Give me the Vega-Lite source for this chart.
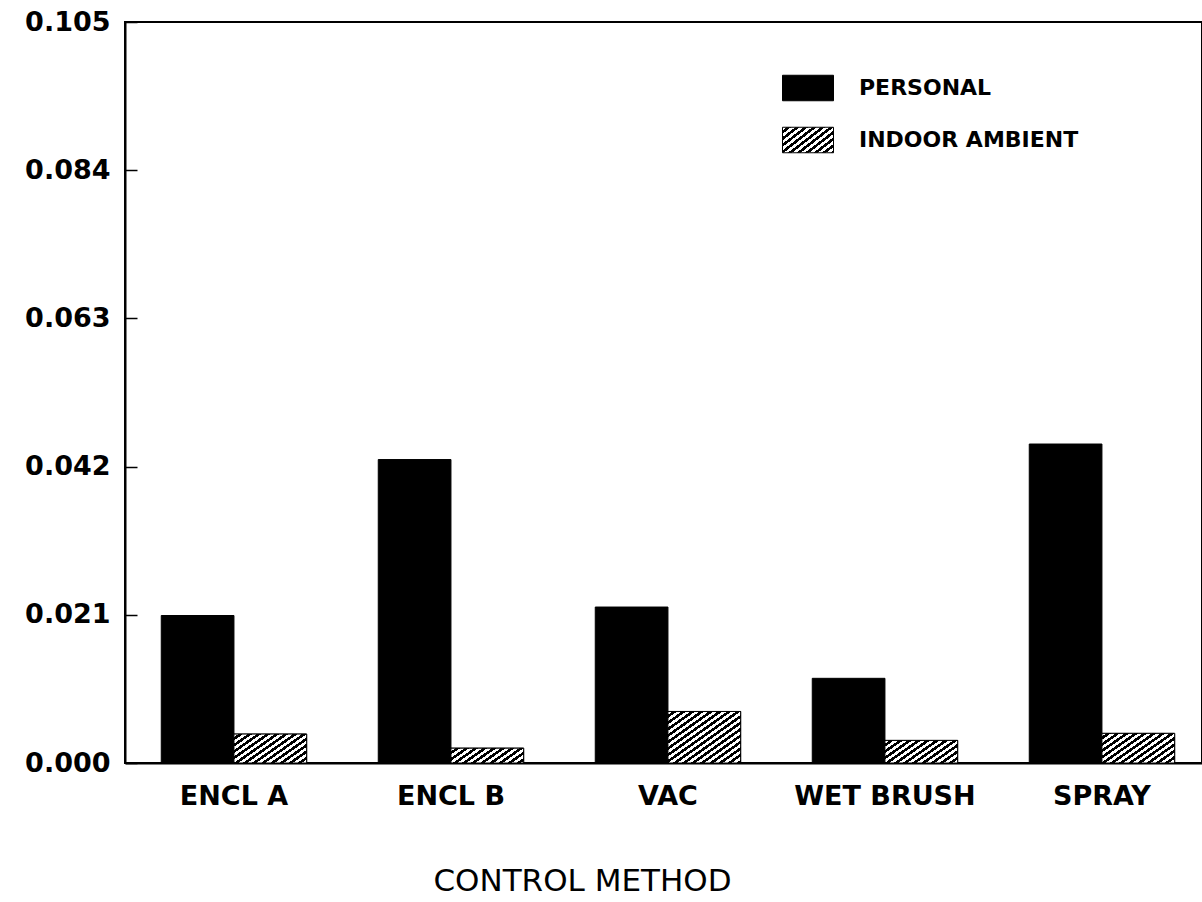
{
  "$schema": "https://vega.github.io/schema/vega-lite/v6.json",
  "autosize": {"type": "none"},
  "padding": {"left": 125, "top": 22, "right": 0, "bottom": 139},
  "width": 1077,
  "height": 741,
  "background": "white",
  "config": {
    "view": {"stroke": "black", "strokeWidth": 2},
    "font": "DejaVu Sans"
  },
  "data": {
    "values": [
      {"method": "ENCL A", "series": "PERSONAL", "value": 0.0209},
      {"method": "ENCL A", "series": "INDOOR AMBIENT", "value": 0.0041},
      {"method": "ENCL B", "series": "PERSONAL", "value": 0.0430},
      {"method": "ENCL B", "series": "INDOOR AMBIENT", "value": 0.0021},
      {"method": "VAC", "series": "PERSONAL", "value": 0.0221},
      {"method": "VAC", "series": "INDOOR AMBIENT", "value": 0.0073},
      {"method": "WET BRUSH", "series": "PERSONAL", "value": 0.0120},
      {"method": "WET BRUSH", "series": "INDOOR AMBIENT", "value": 0.0032},
      {"method": "SPRAY", "series": "PERSONAL", "value": 0.0452},
      {"method": "SPRAY", "series": "INDOOR AMBIENT", "value": 0.0042}
    ]
  },
  "encoding": {
    "x": {
      "field": "method",
      "type": "nominal",
      "sort": ["ENCL A", "ENCL B", "VAC", "WET BRUSH", "SPRAY"],
      "scale": {"paddingInner": 0.33, "paddingOuter": 0.1466, "align": 0.57},
      "axis": {
        "title": "CONTROL METHOD",
        "titleFont": "DejaVu Sans",
        "titleFontSize": 31,
        "titleFontWeight": "normal",
        "titleColor": "black",
        "titleX": 457,
        "titlePadding": 57,
        "labelAngle": 0,
        "labelFont": "DejaVu Sans",
        "labelFontSize": 27,
        "labelFontWeight": "bold",
        "labelColor": "black",
        "labelPadding": 20,
        "labelLimit": 400,
        "labelOverlap": false,
        "ticks": false,
        "domainColor": "black",
        "domainWidth": 2
      }
    },
    "xOffset": {
      "field": "series",
      "type": "nominal",
      "sort": ["PERSONAL", "INDOOR AMBIENT"],
      "scale": {"paddingInner": 0, "paddingOuter": 0}
    },
    "y": {
      "field": "value",
      "type": "quantitative",
      "scale": {"domain": [0, 0.105], "nice": false},
      "axis": {
        "title": null,
        "values": [0, 0.021, 0.042, 0.063, 0.084, 0.105],
        "format": ".3f",
        "grid": false,
        "labelFont": "DejaVu Sans",
        "labelFontSize": 27,
        "labelFontWeight": "bold",
        "labelColor": "black",
        "tickColor": "black",
        "tickWidth": 1.5,
        "tickSize": -12,
        "labelPadding": 27,
        "domainColor": "black",
        "domainWidth": 2
      }
    }
  },
  "layer": [
    {
      "mark": {"type": "bar", "stroke": "black", "strokeWidth": 1},
      "encoding": {
        "color": {
          "field": "series",
          "type": "nominal",
          "sort": ["PERSONAL", "INDOOR AMBIENT"],
          "scale": {
            "domain": ["PERSONAL", "INDOOR AMBIENT"],
            "range": [
              "black",
              {"expr": "{gradient: 'linear', x1: 0, y1: 0, x2: 1.884, y2: 1.215, stops: [{offset: 0, color: 'white'}, {offset: 0.03125, color: 'white'}, {offset: 0.03125, color: 'black'}, {offset: 0.0625, color: 'black'}, {offset: 0.0625, color: 'white'}, {offset: 0.09375, color: 'white'}, {offset: 0.09375, color: 'black'}, {offset: 0.125, color: 'black'}, {offset: 0.125, color: 'white'}, {offset: 0.15625, color: 'white'}, {offset: 0.15625, color: 'black'}, {offset: 0.1875, color: 'black'}, {offset: 0.1875, color: 'white'}, {offset: 0.21875, color: 'white'}, {offset: 0.21875, color: 'black'}, {offset: 0.25, color: 'black'}, {offset: 0.25, color: 'white'}, {offset: 0.28125, color: 'white'}, {offset: 0.28125, color: 'black'}, {offset: 0.3125, color: 'black'}, {offset: 0.3125, color: 'white'}, {offset: 0.34375, color: 'white'}, {offset: 0.34375, color: 'black'}, {offset: 0.375, color: 'black'}, {offset: 0.375, color: 'white'}, {offset: 0.40625, color: 'white'}, {offset: 0.40625, color: 'black'}, {offset: 0.4375, color: 'black'}, {offset: 0.4375, color: 'white'}, {offset: 0.46875, color: 'white'}, {offset: 0.46875, color: 'black'}, {offset: 0.5, color: 'black'}, {offset: 0.5, color: 'white'}, {offset: 0.53125, color: 'white'}, {offset: 0.53125, color: 'black'}, {offset: 0.5625, color: 'black'}, {offset: 0.5625, color: 'white'}, {offset: 0.59375, color: 'white'}, {offset: 0.59375, color: 'black'}, {offset: 0.625, color: 'black'}, {offset: 0.625, color: 'white'}, {offset: 0.65625, color: 'white'}, {offset: 0.65625, color: 'black'}, {offset: 0.6875, color: 'black'}, {offset: 0.6875, color: 'white'}, {offset: 0.71875, color: 'white'}, {offset: 0.71875, color: 'black'}, {offset: 0.75, color: 'black'}, {offset: 0.75, color: 'white'}, {offset: 0.78125, color: 'white'}, {offset: 0.78125, color: 'black'}, {offset: 0.8125, color: 'black'}, {offset: 0.8125, color: 'white'}, {offset: 0.84375, color: 'white'}, {offset: 0.84375, color: 'black'}, {offset: 0.875, color: 'black'}, {offset: 0.875, color: 'white'}, {offset: 0.90625, color: 'white'}, {offset: 0.90625, color: 'black'}, {offset: 0.9375, color: 'black'}, {offset: 0.9375, color: 'white'}, {offset: 0.96875, color: 'white'}, {offset: 0.96875, color: 'black'}, {offset: 1, color: 'black'}]}"}
            ]
          },
          "legend": {
            "title": null,
            "orient": "none",
            "legendX": 657,
            "legendY": 40,
            "padding": 0,
            "symbolType": "M-1,-0.5H1V0.5H-1Z",
            "symbolSize": 2601,
            "symbolStrokeColor": "black",
            "symbolStrokeWidth": 1,
            "labelFont": "DejaVu Sans",
            "labelFontSize": 22,
            "labelFontWeight": "bold",
            "labelColor": "black",
            "labelOffset": 25,
            "rowPadding": 11,
            "labelLimit": 400,
            "encode": {
              "symbols": {
                "update": {
                  "stroke": {"value": "black"},
                  "strokeWidth": {"value": 1}
                }
              }
            }
          }
        }
      }
    },
    {
      "transform": [{"filter": "datum.series === 'INDOOR AMBIENT' && datum.method === 'ENCL A'"}],
      "mark": {
        "type": "bar", "stroke": "black", "strokeWidth": 1,
        "fill": {
          "gradient": "linear", "x1": 0, "y1": 0, "x2": 1.512, "y2": 0.859,
          "stops": [
            {"offset": 0, "color": "white"},
            {"offset": 0.03125, "color": "white"}, {"offset": 0.03125, "color": "black"}, {"offset": 0.0625, "color": "black"}, {"offset": 0.0625, "color": "white"},
            {"offset": 0.09375, "color": "white"}, {"offset": 0.09375, "color": "black"}, {"offset": 0.125, "color": "black"}, {"offset": 0.125, "color": "white"},
            {"offset": 0.15625, "color": "white"}, {"offset": 0.15625, "color": "black"}, {"offset": 0.1875, "color": "black"}, {"offset": 0.1875, "color": "white"},
            {"offset": 0.21875, "color": "white"}, {"offset": 0.21875, "color": "black"}, {"offset": 0.25, "color": "black"}, {"offset": 0.25, "color": "white"},
            {"offset": 0.28125, "color": "white"}, {"offset": 0.28125, "color": "black"}, {"offset": 0.3125, "color": "black"}, {"offset": 0.3125, "color": "white"},
            {"offset": 0.34375, "color": "white"}, {"offset": 0.34375, "color": "black"}, {"offset": 0.375, "color": "black"}, {"offset": 0.375, "color": "white"},
            {"offset": 0.40625, "color": "white"}, {"offset": 0.40625, "color": "black"}, {"offset": 0.4375, "color": "black"}, {"offset": 0.4375, "color": "white"},
            {"offset": 0.46875, "color": "white"}, {"offset": 0.46875, "color": "black"}, {"offset": 0.5, "color": "black"}, {"offset": 0.5, "color": "white"},
            {"offset": 0.53125, "color": "white"}, {"offset": 0.53125, "color": "black"}, {"offset": 0.5625, "color": "black"}, {"offset": 0.5625, "color": "white"},
            {"offset": 0.59375, "color": "white"}, {"offset": 0.59375, "color": "black"}, {"offset": 0.625, "color": "black"}, {"offset": 0.625, "color": "white"},
            {"offset": 0.65625, "color": "white"}, {"offset": 0.65625, "color": "black"}, {"offset": 0.6875, "color": "black"}, {"offset": 0.6875, "color": "white"},
            {"offset": 0.71875, "color": "white"}, {"offset": 0.71875, "color": "black"}, {"offset": 0.75, "color": "black"}, {"offset": 0.75, "color": "white"},
            {"offset": 0.78125, "color": "white"}, {"offset": 0.78125, "color": "black"}, {"offset": 0.8125, "color": "black"}, {"offset": 0.8125, "color": "white"},
            {"offset": 0.84375, "color": "white"}, {"offset": 0.84375, "color": "black"}, {"offset": 0.875, "color": "black"}, {"offset": 0.875, "color": "white"},
            {"offset": 0.90625, "color": "white"}, {"offset": 0.90625, "color": "black"}, {"offset": 0.9375, "color": "black"}, {"offset": 0.9375, "color": "white"},
            {"offset": 0.96875, "color": "white"}, {"offset": 0.96875, "color": "black"}, {"offset": 1, "color": "black"}
          ]
        }
      }
    },
    {
      "transform": [{"filter": "datum.series === 'INDOOR AMBIENT' && datum.method === 'ENCL B'"}],
      "mark": {
        "type": "bar", "stroke": "black", "strokeWidth": 1,
        "fill": {
          "gradient": "linear", "x1": 0, "y1": 0, "x2": 1.844, "y2": 0.536,
          "stops": [
            {"offset": 0, "color": "white"},
            {"offset": 0.03125, "color": "white"}, {"offset": 0.03125, "color": "black"}, {"offset": 0.0625, "color": "black"}, {"offset": 0.0625, "color": "white"},
            {"offset": 0.09375, "color": "white"}, {"offset": 0.09375, "color": "black"}, {"offset": 0.125, "color": "black"}, {"offset": 0.125, "color": "white"},
            {"offset": 0.15625, "color": "white"}, {"offset": 0.15625, "color": "black"}, {"offset": 0.1875, "color": "black"}, {"offset": 0.1875, "color": "white"},
            {"offset": 0.21875, "color": "white"}, {"offset": 0.21875, "color": "black"}, {"offset": 0.25, "color": "black"}, {"offset": 0.25, "color": "white"},
            {"offset": 0.28125, "color": "white"}, {"offset": 0.28125, "color": "black"}, {"offset": 0.3125, "color": "black"}, {"offset": 0.3125, "color": "white"},
            {"offset": 0.34375, "color": "white"}, {"offset": 0.34375, "color": "black"}, {"offset": 0.375, "color": "black"}, {"offset": 0.375, "color": "white"},
            {"offset": 0.40625, "color": "white"}, {"offset": 0.40625, "color": "black"}, {"offset": 0.4375, "color": "black"}, {"offset": 0.4375, "color": "white"},
            {"offset": 0.46875, "color": "white"}, {"offset": 0.46875, "color": "black"}, {"offset": 0.5, "color": "black"}, {"offset": 0.5, "color": "white"},
            {"offset": 0.53125, "color": "white"}, {"offset": 0.53125, "color": "black"}, {"offset": 0.5625, "color": "black"}, {"offset": 0.5625, "color": "white"},
            {"offset": 0.59375, "color": "white"}, {"offset": 0.59375, "color": "black"}, {"offset": 0.625, "color": "black"}, {"offset": 0.625, "color": "white"},
            {"offset": 0.65625, "color": "white"}, {"offset": 0.65625, "color": "black"}, {"offset": 0.6875, "color": "black"}, {"offset": 0.6875, "color": "white"},
            {"offset": 0.71875, "color": "white"}, {"offset": 0.71875, "color": "black"}, {"offset": 0.75, "color": "black"}, {"offset": 0.75, "color": "white"},
            {"offset": 0.78125, "color": "white"}, {"offset": 0.78125, "color": "black"}, {"offset": 0.8125, "color": "black"}, {"offset": 0.8125, "color": "white"},
            {"offset": 0.84375, "color": "white"}, {"offset": 0.84375, "color": "black"}, {"offset": 0.875, "color": "black"}, {"offset": 0.875, "color": "white"},
            {"offset": 0.90625, "color": "white"}, {"offset": 0.90625, "color": "black"}, {"offset": 0.9375, "color": "black"}, {"offset": 0.9375, "color": "white"},
            {"offset": 0.96875, "color": "white"}, {"offset": 0.96875, "color": "black"}, {"offset": 1, "color": "black"}
          ]
        }
      }
    },
    {
      "transform": [{"filter": "datum.series === 'INDOOR AMBIENT' && datum.method === 'VAC'"}],
      "mark": {
        "type": "bar", "stroke": "black", "strokeWidth": 1,
        "fill": {
          "gradient": "linear", "x1": 0, "y1": 0, "x2": 1, "y2": 1,
          "stops": [
            {"offset": 0, "color": "white"},
            {"offset": 0.03125, "color": "white"}, {"offset": 0.03125, "color": "black"}, {"offset": 0.0625, "color": "black"}, {"offset": 0.0625, "color": "white"},
            {"offset": 0.09375, "color": "white"}, {"offset": 0.09375, "color": "black"}, {"offset": 0.125, "color": "black"}, {"offset": 0.125, "color": "white"},
            {"offset": 0.15625, "color": "white"}, {"offset": 0.15625, "color": "black"}, {"offset": 0.1875, "color": "black"}, {"offset": 0.1875, "color": "white"},
            {"offset": 0.21875, "color": "white"}, {"offset": 0.21875, "color": "black"}, {"offset": 0.25, "color": "black"}, {"offset": 0.25, "color": "white"},
            {"offset": 0.28125, "color": "white"}, {"offset": 0.28125, "color": "black"}, {"offset": 0.3125, "color": "black"}, {"offset": 0.3125, "color": "white"},
            {"offset": 0.34375, "color": "white"}, {"offset": 0.34375, "color": "black"}, {"offset": 0.375, "color": "black"}, {"offset": 0.375, "color": "white"},
            {"offset": 0.40625, "color": "white"}, {"offset": 0.40625, "color": "black"}, {"offset": 0.4375, "color": "black"}, {"offset": 0.4375, "color": "white"},
            {"offset": 0.46875, "color": "white"}, {"offset": 0.46875, "color": "black"}, {"offset": 0.5, "color": "black"}, {"offset": 0.5, "color": "white"},
            {"offset": 0.53125, "color": "white"}, {"offset": 0.53125, "color": "black"}, {"offset": 0.5625, "color": "black"}, {"offset": 0.5625, "color": "white"},
            {"offset": 0.59375, "color": "white"}, {"offset": 0.59375, "color": "black"}, {"offset": 0.625, "color": "black"}, {"offset": 0.625, "color": "white"},
            {"offset": 0.65625, "color": "white"}, {"offset": 0.65625, "color": "black"}, {"offset": 0.6875, "color": "black"}, {"offset": 0.6875, "color": "white"},
            {"offset": 0.71875, "color": "white"}, {"offset": 0.71875, "color": "black"}, {"offset": 0.75, "color": "black"}, {"offset": 0.75, "color": "white"},
            {"offset": 0.78125, "color": "white"}, {"offset": 0.78125, "color": "black"}, {"offset": 0.8125, "color": "black"}, {"offset": 0.8125, "color": "white"},
            {"offset": 0.84375, "color": "white"}, {"offset": 0.84375, "color": "black"}, {"offset": 0.875, "color": "black"}, {"offset": 0.875, "color": "white"},
            {"offset": 0.90625, "color": "white"}, {"offset": 0.90625, "color": "black"}, {"offset": 0.9375, "color": "black"}, {"offset": 0.9375, "color": "white"},
            {"offset": 0.96875, "color": "white"}, {"offset": 0.96875, "color": "black"}, {"offset": 1, "color": "black"}
          ]
        }
      }
    },
    {
      "transform": [{"filter": "datum.series === 'INDOOR AMBIENT' && datum.method === 'WET BRUSH'"}],
      "mark": {
        "type": "bar", "stroke": "black", "strokeWidth": 1,
        "fill": {
          "gradient": "linear", "x1": 0, "y1": 0, "x2": 1.671, "y2": 0.742,
          "stops": [
            {"offset": 0, "color": "white"},
            {"offset": 0.03125, "color": "white"}, {"offset": 0.03125, "color": "black"}, {"offset": 0.0625, "color": "black"}, {"offset": 0.0625, "color": "white"},
            {"offset": 0.09375, "color": "white"}, {"offset": 0.09375, "color": "black"}, {"offset": 0.125, "color": "black"}, {"offset": 0.125, "color": "white"},
            {"offset": 0.15625, "color": "white"}, {"offset": 0.15625, "color": "black"}, {"offset": 0.1875, "color": "black"}, {"offset": 0.1875, "color": "white"},
            {"offset": 0.21875, "color": "white"}, {"offset": 0.21875, "color": "black"}, {"offset": 0.25, "color": "black"}, {"offset": 0.25, "color": "white"},
            {"offset": 0.28125, "color": "white"}, {"offset": 0.28125, "color": "black"}, {"offset": 0.3125, "color": "black"}, {"offset": 0.3125, "color": "white"},
            {"offset": 0.34375, "color": "white"}, {"offset": 0.34375, "color": "black"}, {"offset": 0.375, "color": "black"}, {"offset": 0.375, "color": "white"},
            {"offset": 0.40625, "color": "white"}, {"offset": 0.40625, "color": "black"}, {"offset": 0.4375, "color": "black"}, {"offset": 0.4375, "color": "white"},
            {"offset": 0.46875, "color": "white"}, {"offset": 0.46875, "color": "black"}, {"offset": 0.5, "color": "black"}, {"offset": 0.5, "color": "white"},
            {"offset": 0.53125, "color": "white"}, {"offset": 0.53125, "color": "black"}, {"offset": 0.5625, "color": "black"}, {"offset": 0.5625, "color": "white"},
            {"offset": 0.59375, "color": "white"}, {"offset": 0.59375, "color": "black"}, {"offset": 0.625, "color": "black"}, {"offset": 0.625, "color": "white"},
            {"offset": 0.65625, "color": "white"}, {"offset": 0.65625, "color": "black"}, {"offset": 0.6875, "color": "black"}, {"offset": 0.6875, "color": "white"},
            {"offset": 0.71875, "color": "white"}, {"offset": 0.71875, "color": "black"}, {"offset": 0.75, "color": "black"}, {"offset": 0.75, "color": "white"},
            {"offset": 0.78125, "color": "white"}, {"offset": 0.78125, "color": "black"}, {"offset": 0.8125, "color": "black"}, {"offset": 0.8125, "color": "white"},
            {"offset": 0.84375, "color": "white"}, {"offset": 0.84375, "color": "black"}, {"offset": 0.875, "color": "black"}, {"offset": 0.875, "color": "white"},
            {"offset": 0.90625, "color": "white"}, {"offset": 0.90625, "color": "black"}, {"offset": 0.9375, "color": "black"}, {"offset": 0.9375, "color": "white"},
            {"offset": 0.96875, "color": "white"}, {"offset": 0.96875, "color": "black"}, {"offset": 1, "color": "black"}
          ]
        }
      }
    },
    {
      "transform": [{"filter": "datum.series === 'INDOOR AMBIENT' && datum.method === 'SPRAY'"}],
      "mark": {
        "type": "bar", "stroke": "black", "strokeWidth": 1,
        "fill": {
          "gradient": "linear", "x1": 0, "y1": 0, "x2": 1.494, "y2": 0.869,
          "stops": [
            {"offset": 0, "color": "white"},
            {"offset": 0.03125, "color": "white"}, {"offset": 0.03125, "color": "black"}, {"offset": 0.0625, "color": "black"}, {"offset": 0.0625, "color": "white"},
            {"offset": 0.09375, "color": "white"}, {"offset": 0.09375, "color": "black"}, {"offset": 0.125, "color": "black"}, {"offset": 0.125, "color": "white"},
            {"offset": 0.15625, "color": "white"}, {"offset": 0.15625, "color": "black"}, {"offset": 0.1875, "color": "black"}, {"offset": 0.1875, "color": "white"},
            {"offset": 0.21875, "color": "white"}, {"offset": 0.21875, "color": "black"}, {"offset": 0.25, "color": "black"}, {"offset": 0.25, "color": "white"},
            {"offset": 0.28125, "color": "white"}, {"offset": 0.28125, "color": "black"}, {"offset": 0.3125, "color": "black"}, {"offset": 0.3125, "color": "white"},
            {"offset": 0.34375, "color": "white"}, {"offset": 0.34375, "color": "black"}, {"offset": 0.375, "color": "black"}, {"offset": 0.375, "color": "white"},
            {"offset": 0.40625, "color": "white"}, {"offset": 0.40625, "color": "black"}, {"offset": 0.4375, "color": "black"}, {"offset": 0.4375, "color": "white"},
            {"offset": 0.46875, "color": "white"}, {"offset": 0.46875, "color": "black"}, {"offset": 0.5, "color": "black"}, {"offset": 0.5, "color": "white"},
            {"offset": 0.53125, "color": "white"}, {"offset": 0.53125, "color": "black"}, {"offset": 0.5625, "color": "black"}, {"offset": 0.5625, "color": "white"},
            {"offset": 0.59375, "color": "white"}, {"offset": 0.59375, "color": "black"}, {"offset": 0.625, "color": "black"}, {"offset": 0.625, "color": "white"},
            {"offset": 0.65625, "color": "white"}, {"offset": 0.65625, "color": "black"}, {"offset": 0.6875, "color": "black"}, {"offset": 0.6875, "color": "white"},
            {"offset": 0.71875, "color": "white"}, {"offset": 0.71875, "color": "black"}, {"offset": 0.75, "color": "black"}, {"offset": 0.75, "color": "white"},
            {"offset": 0.78125, "color": "white"}, {"offset": 0.78125, "color": "black"}, {"offset": 0.8125, "color": "black"}, {"offset": 0.8125, "color": "white"},
            {"offset": 0.84375, "color": "white"}, {"offset": 0.84375, "color": "black"}, {"offset": 0.875, "color": "black"}, {"offset": 0.875, "color": "white"},
            {"offset": 0.90625, "color": "white"}, {"offset": 0.90625, "color": "black"}, {"offset": 0.9375, "color": "black"}, {"offset": 0.9375, "color": "white"},
            {"offset": 0.96875, "color": "white"}, {"offset": 0.96875, "color": "black"}, {"offset": 1, "color": "black"}
          ]
        }
      }
    }
  ]
}
